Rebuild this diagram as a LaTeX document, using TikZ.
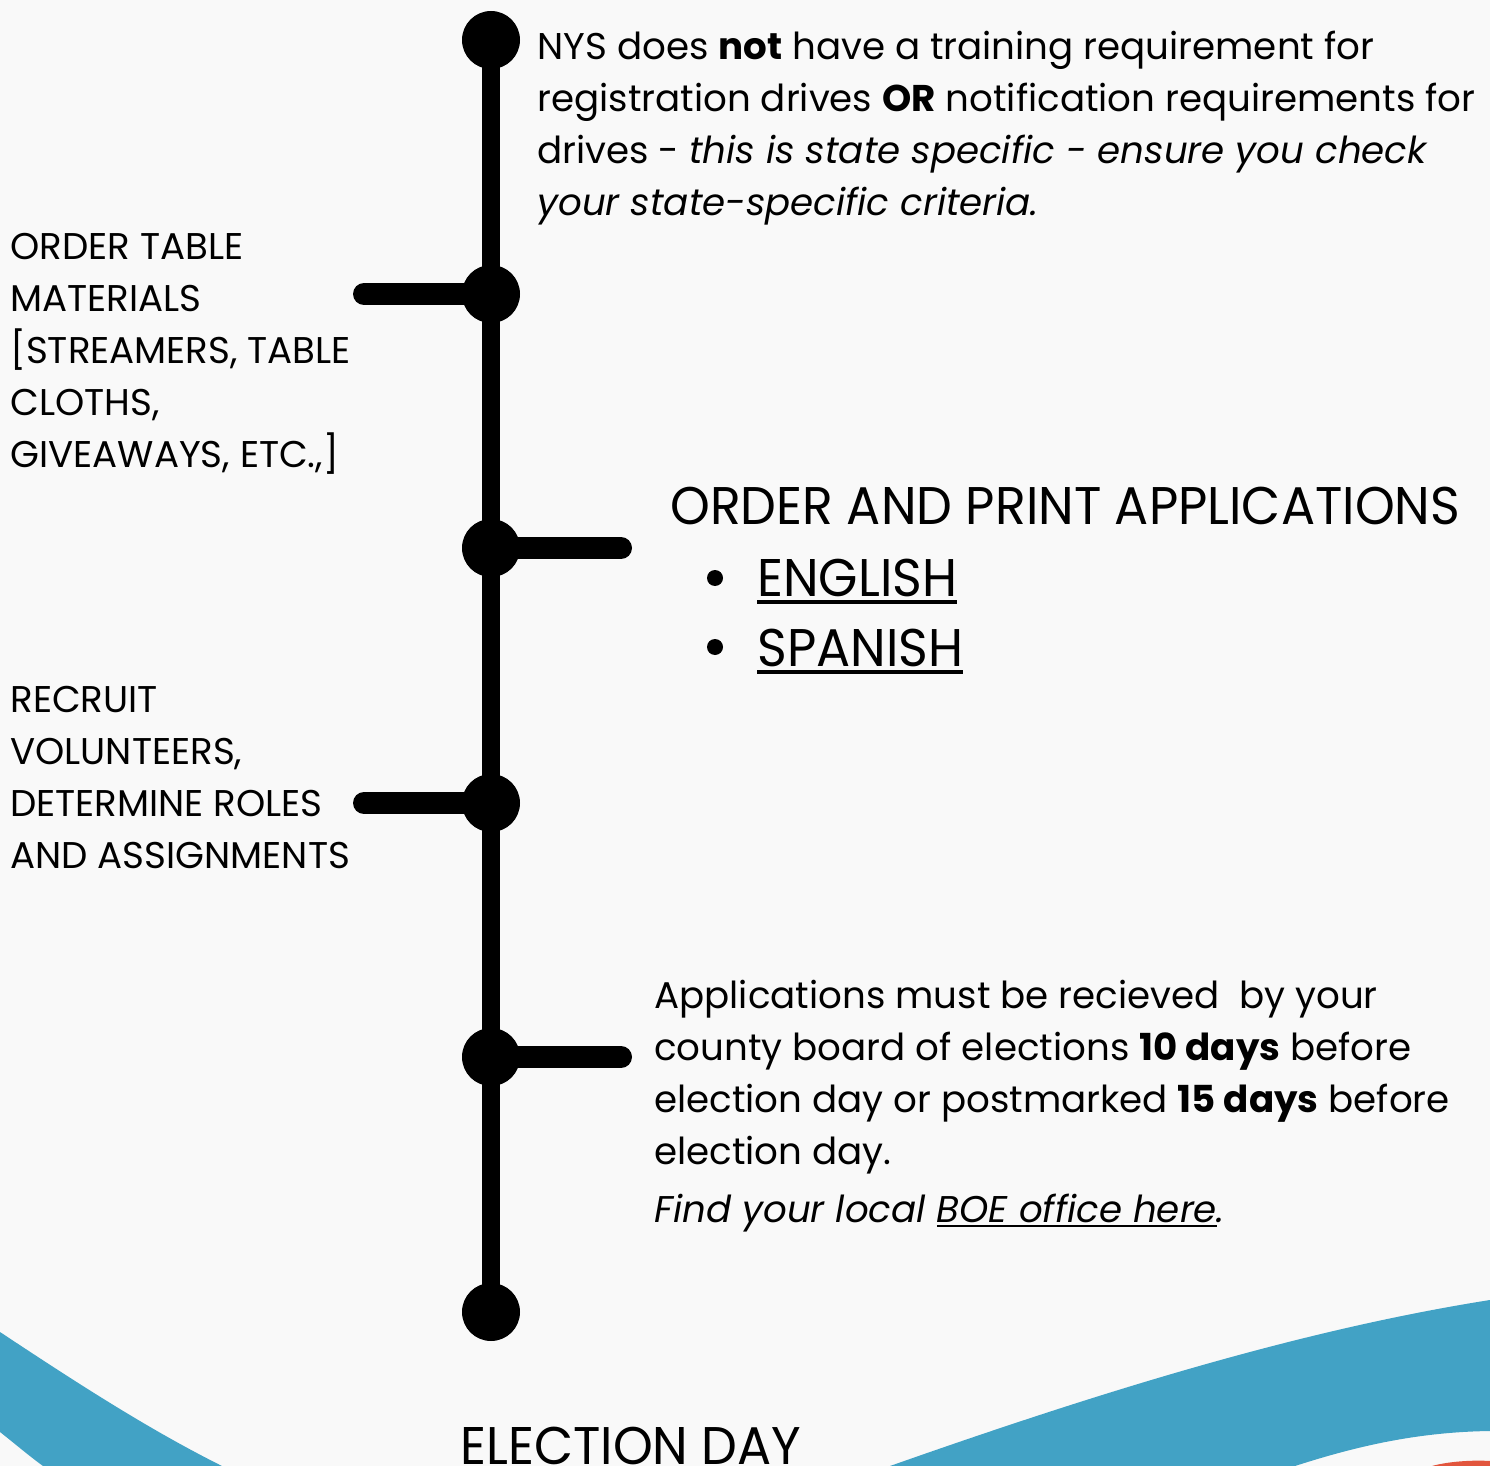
\documentclass[tikz,border=0pt]{standalone}
\usepackage{fontspec}
\setmainfont{Poppins}
\newfontfamily\condfont[FakeStretch=0.955]{Poppins}
\definecolor{bgc}{HTML}{F9F9F9}
\definecolor{wave}{HTML}{42A2C5}
\definecolor{accent}{HTML}{E2553D}
\newcommand\biglink[1]{\leavevmode\setbox0\hbox{#1}\rlap{\rule[-4.2pt]{\wd0}{2pt}}\box0}
\newcommand\smalllink[1]{\leavevmode\setbox0\hbox{#1}\rlap{\rule[-2.6pt]{\wd0}{1.3pt}}\box0}
\begin{document}
\begin{tikzpicture}[x=0.5pt,y=-0.5pt,
  dot/.style={circle,fill=black,minimum size=29pt,inner sep=0pt},
  bullet/.style={circle,fill=black,minimum size=8pt,inner sep=0pt},
  spine/.style={line width=9pt},
  stub/.style={line width=11pt,line cap=round},
  body/.style={anchor=base west,inner sep=0pt,align=left,font=\fontsize{18.6}{26}\selectfont},
  label/.style={anchor=base west,inner sep=0pt,align=left,font=\fontsize{18.6}{26}\selectfont},
  head/.style={anchor=base west,inner sep=0pt,font=\condfont\fontsize{26.5}{30}\selectfont},
]
\useasboundingbox (0,0) rectangle (1490,1466);
\clip (0,0) rectangle (1490,1466);
\fill[bgc] (0,0) rectangle (1490,1466);
% waves
\fill[wave] (0,1332) .. controls (80,1385) and (150,1430) .. (222,1466) -- (43,1466) .. controls (28,1455) and (14,1443) .. (0,1432) -- cycle;
\fill[wave] (890,1466) .. controls (1100,1392) and (1300,1330) .. (1490,1300) -- (1490,1431) .. controls (1420,1432) and (1360,1445) .. (1295,1466) -- cycle;
\fill[accent] (1432,1466) .. controls (1450,1461) and (1475,1460) .. (1490,1461) -- (1490,1466) -- cycle;
% timeline
\node[dot] (d1) at (491,40) {};
\node[dot] (d2) at (491,294) {};
\node[dot] (d3) at (491,548) {};
\node[dot] (d4) at (491,803) {};
\node[dot] (d5) at (491,1057) {};
\node[dot] (d6) at (491,1312) {};
\draw[spine] (d1.center) -- (d6.center);
\coordinate (s2) at (364,294);
\coordinate (s3) at (621,548);
\coordinate (s4) at (364,803);
\coordinate (s5) at (621,1057);
\draw[stub] (d2.center) -- (s2);
\draw[stub] (d3.center) -- (s3);
\draw[stub] (d4.center) -- (s4);
\draw[stub] (d5.center) -- (s5);
% texts (base anchor of a multi-line node = last line's baseline)
\node[body] (t1) at (537,216) {NYS does \textbf{not} have a training requirement for\\
registration drives \textbf{OR} notification requirements for\\
drives - \textit{this is state specific - ensure you check}\\
\textit{your state-specific criteria.}};
\node[label] (t2) at (10,467) {ORDER TABLE\\MATERIALS\\{[}STREAMERS, TABLE\\CLOTHS,\\GIVEAWAYS, ETC.,]};
\node[head] (t3) at (670,524) {ORDER AND PRINT APPLICATIONS};
\node[bullet] (b1) at (715,578) {};
\node[head] (t3a) at (757,596) {\biglink{ENGLISH}};
\node[bullet] (b2) at (715,647) {};
\node[head] (t3b) at (757,666) {\biglink{SPANISH}};
\node[label] (t4) at (10,868) {RECRUIT\\VOLUNTEERS,\\DETERMINE ROLES\\AND ASSIGNMENTS};
\node[body] (t5) at (654,1164) {Applications must be recieved \ by your\\
county board of elections \textbf{10 days} before\\
election day or postmarked \textbf{15 days} before\\
election day.};
\node[body] (t5b) at (654,1222) {\textit{Find your local \smalllink{BOE office here}.}};
\node[head] (t6) at (460,1464) {ELECTION DAY};
\end{tikzpicture}
\end{document}
